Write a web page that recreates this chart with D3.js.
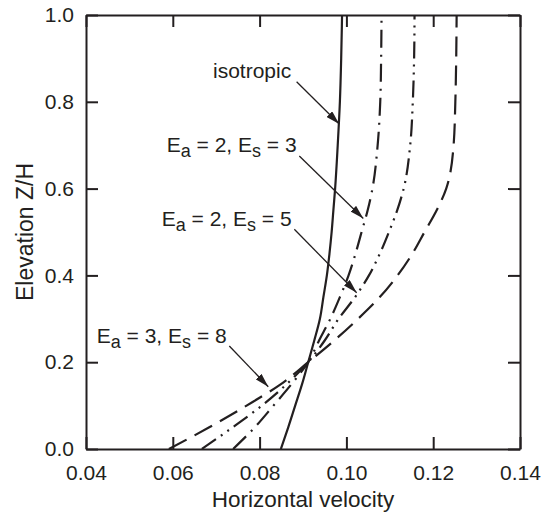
<!DOCTYPE html>
<html>
<head>
<meta charset="utf-8">
<script src="https://cdn.jsdelivr.net/npm/d3@7"></script>
<style>
  html, body { margin: 0; padding: 0; background: #fff; }
  svg { display: block; font-family: "Liberation Sans", Arial, Helvetica, sans-serif; }
</style>
</head>
<body>
<svg id="chart" width="549" height="513"></svg>
<script>
// Elevation (Z/H) at which each profile is sampled
const elevation = [0, 0.05, 0.10, 0.15, 0.20, 0.25, 0.30, 0.35, 0.40, 0.45, 0.50, 0.55, 0.60, 0.70, 0.80, 0.90, 1.00];

// Horizontal velocity profiles
const isotropic = [0.0849, 0.0866, 0.0882, 0.0898, 0.0912, 0.0926, 0.0939, 0.0947, 0.0955, 0.0961, 0.0966, 0.0970, 0.0974, 0.0980, 0.0985, 0.0988, 0.0990];
const ea2es3    = [0.0739, 0.0789, 0.0832, 0.0874, 0.0912, 0.0937, 0.0963, 0.0985, 0.1005, 0.1021, 0.1035, 0.1049, 0.1060, 0.1072, 0.1078, 0.1080, 0.1081];
const ea2es5    = [0.0667, 0.0738, 0.0805, 0.0863, 0.0912, 0.0950, 0.0982, 0.1020, 0.1052, 0.1077, 0.1098, 0.1117, 0.1132, 0.1147, 0.1153, 0.1156, 0.1157];
const ea3es8    = [0.0591, 0.0684, 0.0770, 0.0850, 0.0912, 0.0972, 0.1027, 0.1077, 0.1118, 0.1152, 0.1180, 0.1208, 0.1230, 0.1247, 0.1251, 0.1253, 0.1254];

const xTicks = [0.04, 0.06, 0.08, 0.10, 0.12, 0.14];
const yTicks = [0.0, 0.2, 0.4, 0.6, 0.8, 1.0];

const xTitle = "Horizontal velocity";
const yTitle = "Elevation Z/H";

// Annotations: label anchor (velocity, elevation), arrow start and arrow tip
const labels = [
  { main: ["isotropic"], at: [0.06926, 0.854], from: [0.08853, 0.8463], to: [0.09836, 0.7488] },
  { main: ["E", "a", " = 2, E", "s", " = 3"], at: [0.05859, 0.685], from: [0.08915, 0.6751], to: [0.10390, 0.5311] },
  { main: ["E", "a", " = 2, E", "s", " = 5"], at: [0.05744, 0.5138], from: [0.08800, 0.5062], to: [0.10237, 0.3601] },
  { main: ["E", "a", " = 3, E", "s", " = 8"], at: [0.04247, 0.2442], from: [0.07302, 0.2373], to: [0.08200, 0.1435] }
];

const ink = "#231f20";
const svg = d3.select("#chart");
const plotLeft = 86, plotRight = 520, plotTop = 15, plotBottom = 449;

const x = d3.scaleLinear().domain([0.04, 0.14]).range([plotLeft, plotRight]);
const y = d3.scaleLinear().domain([0, 1]).range([plotBottom, plotTop]);

function styleAxis(g) {
  g.selectAll("path.domain").attr("stroke", ink).attr("stroke-width", 2);
  g.selectAll(".tick line").attr("stroke", ink).attr("stroke-width", 2);
  g.selectAll(".tick text").attr("fill", ink).style("font-size", "21px")
    .style("font-family", '"Liberation Sans", Arial, Helvetica, sans-serif');
}

// Frame with inward ticks on all four sides
svg.append("g").attr("transform", `translate(0,${plotBottom})`)
  .call(d3.axisBottom(x).tickValues(xTicks).tickFormat(d3.format(".2f")).tickSize(-12).tickSizeOuter(0).tickPadding(16))
  .call(styleAxis);
svg.append("g").attr("transform", `translate(0,${plotTop})`)
  .call(d3.axisTop(x).tickValues(xTicks).tickFormat("").tickSize(-12).tickSizeOuter(0))
  .call(styleAxis);
svg.append("g").attr("transform", `translate(${plotLeft},0)`)
  .call(d3.axisLeft(y).tickValues(yTicks).tickFormat(d3.format(".1f")).tickSize(-12).tickSizeOuter(0).tickPadding(12))
  .call(styleAxis);
svg.append("g").attr("transform", `translate(${plotRight},0)`)
  .call(d3.axisRight(y).tickValues(yTicks).tickFormat("").tickSize(-12).tickSizeOuter(0))
  .call(styleAxis);

// Axis titles
svg.append("text").attr("x", (plotLeft + plotRight) / 2).attr("y", 507)
  .attr("text-anchor", "middle").attr("fill", ink).style("font-size", "22.5px").text(xTitle);
svg.append("text").attr("transform", `translate(33,${(plotTop + plotBottom) / 2}) rotate(-90)`)
  .attr("text-anchor", "middle").attr("fill", ink).style("font-size", "23px").text(yTitle);

// Velocity profiles
const series = [
  { values: isotropic, dash: null },
  { values: ea2es3, dash: "18,7,2,7" },
  { values: ea2es5, dash: "17,6,2,6,2,6" },
  { values: ea3es8, dash: "20,9" }
];
const line = d3.line().x(d => x(d[0])).y(d => y(d[1])).curve(d3.curveMonotoneY);
svg.append("g").selectAll("path").data(series).join("path")
  .attr("d", s => line(s.values.map((v, i) => [v, elevation[i]])))
  .attr("fill", "none").attr("stroke", ink).attr("stroke-width", 2.2)
  .attr("stroke-dasharray", s => s.dash);

// Arrowhead
svg.append("defs").append("marker")
  .attr("id", "head").attr("markerUnits", "userSpaceOnUse")
  .attr("viewBox", "0 0 14 8").attr("markerWidth", 14).attr("markerHeight", 8)
  .attr("refX", 14).attr("refY", 4).attr("orient", "auto")
  .append("path").attr("d", "M0,0 L14,4 L0,8 Z").attr("fill", ink);

// Annotation labels with leader arrows
const ann = svg.append("g");
labels.forEach(l => {
  ann.append("line")
    .attr("x1", x(l.from[0])).attr("y1", y(l.from[1]))
    .attr("x2", x(l.to[0])).attr("y2", y(l.to[1]))
    .attr("stroke", ink).attr("stroke-width", 1.3).attr("marker-end", "url(#head)");
  const t = ann.append("text").attr("x", x(l.at[0])).attr("y", y(l.at[1]))
    .attr("fill", ink).style("font-size", "21px");
  l.main.forEach((part, i) => {
    const sub = i % 2 === 1;
    t.append("tspan").text(part)
      .style("font-size", sub ? "18px" : "21px")
      .attr("dy", sub ? 5 : (i > 0 ? -5 : 0));
  });
});
</script>
</body>
</html>
